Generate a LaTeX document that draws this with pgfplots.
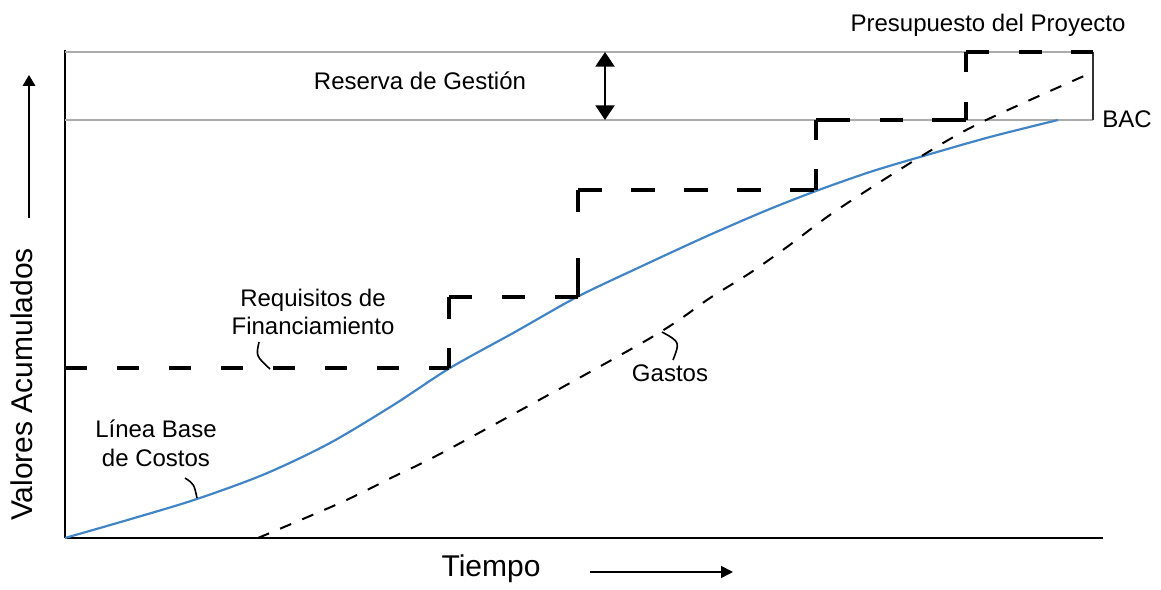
\documentclass[border=0pt]{standalone}
\usepackage{pgfplots}
\pgfplotsset{compat=1.18}
\usepackage{fontspec}
\setmainfont{Liberation Sans}
\usetikzlibrary{arrows.meta}
\definecolor{baseblue}{RGB}{66,133,199}
\definecolor{refgray}{RGB}{172,172,172}
\begin{document}
\begin{tikzpicture}
\begin{axis}[
  scale only axis, width=519pt, height=244pt,
  xmin=0, xmax=1038, ymin=0, ymax=488,
  axis x line=bottom, axis y line=left,
  axis line style={-, line width=1.4pt, black},
  xtick=\empty, ytick=\empty,
  clip=false,
  fund/.style={black, line width=1.9pt},
]
% bounding area
\path (axis cs:-65,-49) rectangle (axis cs:1096,538);
% reference lines
\addplot[refgray, line width=1pt] coordinates {(0,486) (1028,486)};
\addplot[refgray, line width=1pt] coordinates {(0,418) (1028,418)};
\addplot[black!80, line width=1pt] coordinates {(1028,418) (1028,486)};
% cost baseline
\addplot[baseblue, line width=1.1pt, smooth, tension=0.5] coordinates {
 (0,0) (66,19) (132,39) (200,64) (265,95) (330,134) (385,170) (450,206)
 (512,241) (575,271) (640,301) (700,327) (751,347) (805,366) (855,381)
 (925,401) (993,418)};
% funding requirements (stepped)
\addplot[fund, dash pattern=on 11pt off 15pt] coordinates {(0,170) (384,170)};
\addplot[fund, dash pattern=on 10pt off 14.5pt on 11pt off 40pt] coordinates {(384,170) (384,241)};
\addplot[fund, dash pattern=on 11.5pt off 15pt] coordinates {(384,241) (513,241)};
\addplot[fund, dash pattern=on 19.5pt off 23pt on 11pt off 40pt] coordinates {(513,241) (513,348)};
\addplot[fund, dash pattern=on 12pt off 14.5pt] coordinates {(513,348) (751,348)};
\addplot[fund, dash pattern=on 10.5pt off 14.5pt on 11pt off 40pt] coordinates {(751,348) (751,418)};
\addplot[fund, dash pattern=on 17pt off 15pt on 11.5pt off 14.5pt on 17pt off 40pt] coordinates {(751,418) (901,418)};
\addplot[fund, dash pattern=on 9pt off 15pt on 10pt off 40pt] coordinates {(901,418) (901,486)};
\addplot[fund, dash pattern=on 11.5pt off 15pt on 11.5pt off 14.5pt on 11pt off 40pt] coordinates {(901,486) (1028,486)};
% expenditures
\addplot[black, line width=1pt, dash pattern=on 6pt off 6pt, smooth] coordinates {
 (193,0) (275,35) (328,61) (388,91) (582,198) (645,240) (685,265)
 (722,291) (772,328) (855,381) (915,415) (1028,466)};
% annotations
\draw[line width=1pt, {Triangle[width=9.5pt,length=7.3pt]}-{Triangle[width=9.5pt,length=7.3pt]}]
  (axis cs:540,486) -- (axis cs:540,418);
\node[anchor=base, font=\fontsize{12}{14}\selectfont] at (axis cs:355,448) {Reserva de Gestión};
\node[anchor=base, font=\fontsize{12}{14}\selectfont] at (axis cs:923,506) {Presupuesto del Proyecto};
\node[anchor=base west, font=\fontsize{12}{14}\selectfont, inner sep=0pt] at (axis cs:1037,410) {BAC};
\node[anchor=base, font=\fontsize{12}{14}\selectfont] at (axis cs:248,231) {Requisitos de};
\node[anchor=base, font=\fontsize{12}{14}\selectfont] at (axis cs:248,203) {Financiamiento};
\node[anchor=base, font=\fontsize{12}{14}\selectfont] at (axis cs:91,100) {Línea Base};
\node[anchor=base, font=\fontsize{12}{14}\selectfont] at (axis cs:91,71) {de Costos};
\node[anchor=base, font=\fontsize{12}{14}\selectfont] at (axis cs:605,156) {Gastos};
\draw[line width=0.8pt] (axis cs:194,196) .. controls (axis cs:191,182) .. (axis cs:205,169);
\draw[line width=0.8pt] (axis cs:120,60) .. controls (axis cs:129,54) .. (axis cs:132,40);
\draw[line width=0.8pt] (axis cs:597,206) .. controls (axis cs:615,196) .. (axis cs:608,178);
% axis titles
\node[anchor=base, font=\fontsize{15}{18}\selectfont] at (axis cs:426,-39) {Tiempo};
\draw[line width=0.8pt, -{Triangle[width=6pt,length=6pt]}] (axis cs:525,-34) -- (axis cs:668,-34);
\node[anchor=base, rotate=90, font=\fontsize{15}{18}\selectfont] at (axis cs:-32,153.5) {Valores Acumulados};
\draw[line width=0.8pt, -{Triangle[width=6.3pt,length=5.5pt]}] (axis cs:-36,320) -- (axis cs:-36,463);
\end{axis}
\end{tikzpicture}
\end{document}
